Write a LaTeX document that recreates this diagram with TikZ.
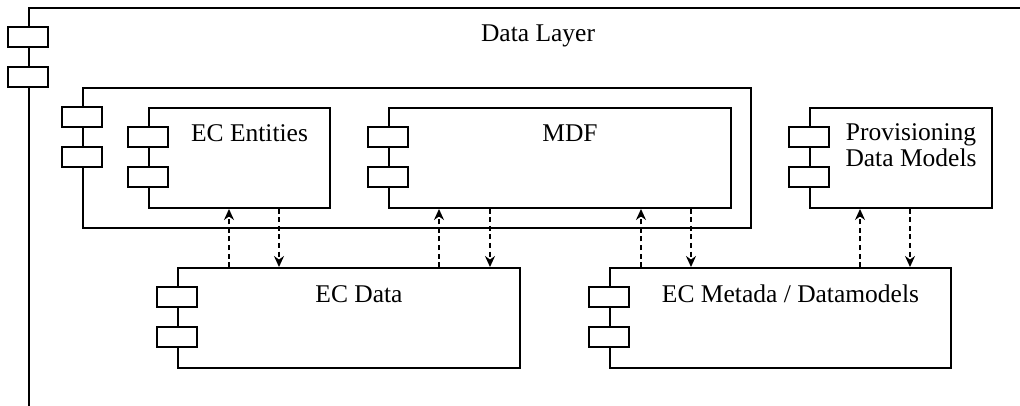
\documentclass[tikz,border=0pt]{standalone}
\usepackage{fontspec}
\setmainfont{Liberation Serif}
\usetikzlibrary{arrows.meta}
\tikzset{
  comp/.style={draw, line width=2pt, fill=white, inner sep=0pt},
  port/.style={draw, line width=2pt, fill=white, inner sep=0pt, minimum width=40, minimum height=20},
  lbl/.style={anchor=base, inner sep=0pt, align=center, font=\fontsize{25.5}{26}\selectfont},
  dep/.style={line width=1.6pt, dash pattern={on 5pt off 3.5pt}, -{Stealth[length=11pt,width=10pt]}}
}

\begin{document}
\begin{tikzpicture}[x=1pt,y=1pt,yscale=-1,xscale=1]
\useasboundingbox (0,0) rectangle (1020,406);
\clip (0,0) rectangle (1020,406);

%Shape: Data Layer frame
\node [comp, minimum width=998, minimum height=422] (layer) at (528,219) {};
%Shape: inner group
\node [comp, minimum width=668, minimum height=140] (group) at (417,158) {};
%Shape: EC Entities
\node [comp, minimum width=181, minimum height=100] (ecent) at (239.5,158) {};
%Shape: MDF
\node [comp, minimum width=342, minimum height=100] (mdf) at (560,158) {};
%Shape: Provisioning
\node [comp, minimum width=182, minimum height=100] (prov) at (901,158) {};
%Shape: EC Data
\node [comp, minimum width=342, minimum height=100] (ecdata) at (349,318) {};
%Shape: EC Metada
\node [comp, minimum width=341, minimum height=100] (ecmeta) at (780.5,318) {};

%Ports on the left edges
\foreach \b in {layer,group,ecent,mdf,prov,ecdata,ecmeta} {
  \node [port] (\b-p1) at ([yshift=30]\b.north west) {};
  \node [port] (\b-p2) at ([yshift=70]\b.north west) {};
}

% Text Node
\node [lbl] (layer-t) at ([xshift=10,yshift=35]layer.north) {Data Layer};
% Text Node
\node [lbl] (ecent-t) at ([xshift=10,yshift=35]ecent.north) {EC Entities};
% Text Node
\node [lbl] (mdf-t) at ([xshift=10,yshift=35]mdf.north) {MDF};
% Text Node
\node [lbl] (prov-t) at ([xshift=10,yshift=60]prov.north) {Provisioning\\Data Models};
% Text Node
\node [lbl] (ecdata-t) at ([xshift=10,yshift=35]ecdata.north) {EC Data};
% Text Node
\node [lbl] (ecmeta-t) at ([xshift=10,yshift=35]ecmeta.north) {EC Metada / Datamodels};

%Arrow columns
\coordinate (c1) at (229,0);
\coordinate (c2) at (279,0);
\coordinate (c3) at (439,0);
\coordinate (c4) at (490,0);
\coordinate (c5) at (641,0);
\coordinate (c6) at (691,0);
\coordinate (c7) at (860,0);
\coordinate (c8) at (910,0);

%Dependencies
\draw [dep] (ecdata.north -| c1) -- (ecent.south -| c1);
\draw [dep] (ecent.south -| c2) -- (ecdata.north -| c2);
\draw [dep] (ecdata.north -| c3) -- (mdf.south -| c3);
\draw [dep] (mdf.south -| c4) -- (ecdata.north -| c4);
\draw [dep] (ecmeta.north -| c5) -- (mdf.south -| c5);
\draw [dep] (mdf.south -| c6) -- (ecmeta.north -| c6);
\draw [dep] (ecmeta.north -| c7) -- (prov.south -| c7);
\draw [dep] (prov.south -| c8) -- (ecmeta.north -| c8);

\end{tikzpicture}
\end{document}
